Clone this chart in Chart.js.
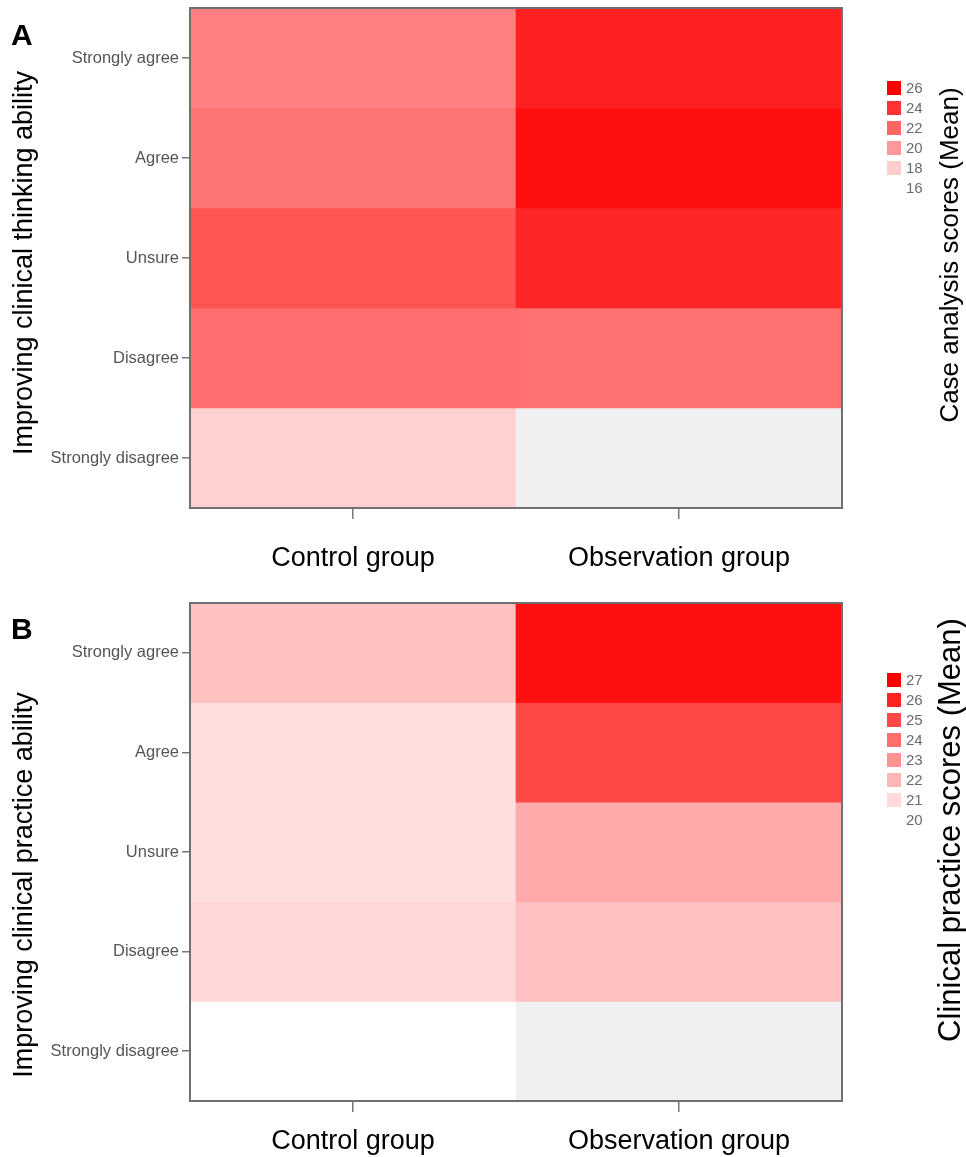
<!DOCTYPE html>
<html>
<head>
<meta charset="utf-8">
<script src="https://cdn.jsdelivr.net/npm/chart.js@4.4.1/dist/chart.umd.min.js"></script>
<style>
  html, body { margin: 0; padding: 0; background: #fff; }
  .panel { position: relative; width: 966px; }
  #wrapA { height: 590px; }
  #wrapB { height: 567px; }
</style>
</head>
<body>
<div class="panel" id="wrapA"><canvas id="chartA"></canvas></div>
<div class="panel" id="wrapB"><canvas id="chartB"></canvas></div>
<script>
// ---- data ----
const groups = ["Control group", "Observation group"];
const levels = ["Strongly agree", "Agree", "Unsure", "Disagree", "Strongly disagree"];

// A: mean case analysis score per answer (null = no respondents, grey cell)
const caseControl     = [21.0, 21.4, 22.7, 21.7, 17.8];
const caseObservation = [24.7, 25.4, 24.5, 21.6, null];
const caseLegend      = [26, 24, 22, 20, 18, 16];

// B: mean clinical practice score per answer
const practiceControl     = [21.7, 20.9, 20.9, 21.1, 20.0];
const practiceObservation = [26.6, 25.0, 22.3, 21.7, null];
const practiceLegend      = [27, 26, 25, 24, 23, 22, 21, 20];

Chart.defaults.font.family = "'Liberation Sans', Arial, sans-serif";

// white -> red ramp over the legend range
function shade(v, min, max) {
  if (v === null) return "#f0f0f0";
  let t = (v - min) / (max - min);
  t = Math.max(0, Math.min(1, t));
  const g = Math.round(255 * (1 - t));
  return "rgb(255," + g + "," + g + ")";
}

const decor = {
  id: "decor",
  afterDatasetsDraw(chart, args, o) {
    const { ctx, chartArea: a } = chart;
    ctx.save();
    ctx.strokeStyle = "#707070";
    ctx.lineWidth = 2;
    ctx.strokeRect(a.left, a.top, a.right - a.left, a.bottom - a.top);
    ctx.restore();
  },
  afterDraw(chart, args, o) {
    const ctx = chart.ctx;
    ctx.save();
    // panel letter
    ctx.fillStyle = "#000";
    ctx.font = "bold 30px 'Liberation Sans', Arial, sans-serif";
    ctx.textAlign = "left";
    ctx.textBaseline = "alphabetic";
    ctx.fillText(o.letter, 11, o.letterY);

    // left title
    ctx.font = "27px 'Liberation Sans', Arial, sans-serif";
    ctx.textAlign = "center";
    ctx.textBaseline = "middle";
    ctx.save();
    ctx.translate(25, o.leftTitleY);
    ctx.rotate(-Math.PI / 2);
    ctx.fillText(o.leftTitle, 0, 0);
    ctx.restore();

    // right title
    ctx.font = o.rightTitleSize + "px 'Liberation Sans', Arial, sans-serif";
    ctx.save();
    ctx.translate(951, o.rightTitleY);
    ctx.rotate(-Math.PI / 2);
    ctx.fillText(o.rightTitle, 0, 0);
    ctx.restore();

    // colour legend
    const min = o.legend[o.legend.length - 1], max = o.legend[0];
    ctx.font = "15px 'Liberation Sans', Arial, sans-serif";
    ctx.textAlign = "left";
    o.legend.forEach((v, i) => {
      const cy = o.legendY + i * 20;
      ctx.fillStyle = shade(v, min, max);
      ctx.fillRect(887, cy - 7, 14, 14);
      ctx.fillStyle = "#6a6a6a";
      ctx.fillText(String(v), 906, cy + 1);
    });
    ctx.restore();
  }
};

function heatmap(id, control, observation, legendVals, d) {
  const min = legendVals[legendVals.length - 1], max = legendVals[0];
  const datasets = levels.map((lvl, i) => ({
    label: lvl,
    data: groups.map(() => [i, i + 1]),
    backgroundColor: [shade(control[i], min, max), shade(observation[i], min, max)],
    borderWidth: 0,
    grouped: false,
    barPercentage: 1,
    categoryPercentage: 1
  }));

  return new Chart(document.getElementById(id), {
    type: "bar",
    data: { labels: groups, datasets },
    plugins: [decor],
    options: {
      responsive: true,
      maintainAspectRatio: false,
      animation: false,
      layout: { padding: { top: d.padTop, right: 124, left: 0, bottom: 0 } },
      plugins: {
        legend: { display: false },
        tooltip: {
          callbacks: {
            label: c => {
              const v = c.dataIndex === 0 ? control[c.datasetIndex] : observation[c.datasetIndex];
              return c.dataset.label + ": " + (v === null ? "n/a" : v);
            }
          }
        },
        decor: {
          letter: d.letter, letterY: d.letterY,
          leftTitle: d.leftTitle, leftTitleY: d.leftTitleY,
          rightTitle: d.rightTitle, rightTitleY: d.rightTitleY, rightTitleSize: d.rightTitleSize,
          legend: legendVals, legendY: d.legendY
        }
      },
      scales: {
        x: {
          type: "category",
          offset: true,
          grid: { offset: false, drawOnChartArea: false, tickLength: 11, color: "#777", lineWidth: 1.5 },
          border: { display: false },
          ticks: { color: "#000", font: { size: 27 }, padding: d.xPad, maxRotation: 0 },
          afterFit: s => { s.height = d.xHeight; }
        },
        y: {
          type: "linear",
          min: 0,
          max: levels.length,
          reverse: true,
          afterBuildTicks: s => { s.ticks = levels.map((_, i) => ({ value: i + 0.5 })); },
          grid: { drawOnChartArea: false, tickLength: 8, color: "#777", lineWidth: 1.5 },
          border: { display: false },
          ticks: {
            autoSkip: false,
            color: "#555",
            font: { size: 16.5 },
            padding: 3,
            callback: (v, i) => levels[i]
          },
          afterFit: s => {
            s.width = 190;
            s.paddingTop = 0;
            s.paddingBottom = 0;
          }
        }
      }
    }
  });
}

heatmap("chartA", caseControl, caseObservation, caseLegend, {
  padTop: 8, xHeight: 82, xPad: 23,
  letter: "A", letterY: 45,
  leftTitle: "Improving clinical thinking ability", leftTitleY: 263,
  rightTitle: "Case analysis scores (Mean)", rightTitleY: 255, rightTitleSize: 26,
  legendY: 88
});

heatmap("chartB", practiceControl, practiceObservation, practiceLegend, {
  padTop: 13, xHeight: 56, xPad: 13,
  letter: "B", letterY: 49,
  leftTitle: "Improving clinical practice ability", leftTitleY: 295,
  rightTitle: "Clinical practice scores (Mean)", rightTitleY: 240, rightTitleSize: 31,
  legendY: 90
});
</script>
</body>
</html>
